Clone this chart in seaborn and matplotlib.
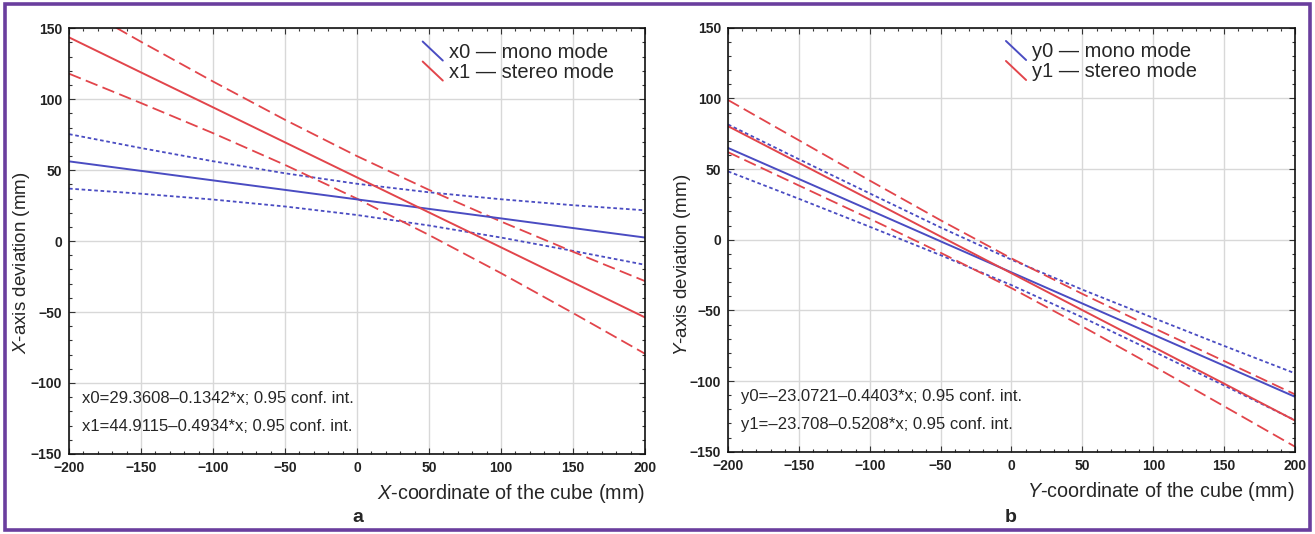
import numpy as np
import pandas as pd
import matplotlib
matplotlib.use('Agg')
import matplotlib.pyplot as plt
import seaborn as sns
from matplotlib.lines import Line2D
from matplotlib.legend_handler import HandlerBase
from matplotlib.patches import Rectangle
from matplotlib.ticker import MultipleLocator

# cube coordinate (mm), shared by both panels
coord = [-200, -150, -100, -50, 0, 50, 100, 150, 200]

# panel a: X-axis deviation
x0_fit = [56.2, 49.5, 42.8, 36.1, 29.4, 22.7, 16.0, 9.2, 2.5]
x0_hi = [75.4, 65.6, 56.3, 47.8, 40.4, 34.4, 29.5, 25.3, 21.7]
x0_lo = [37.0, 33.4, 29.3, 24.4, 18.4, 11.0, 2.5, -6.9, -16.7]
x1_fit = [143.6, 118.9, 94.3, 69.6, 44.9, 20.2, -4.4, -29.1, -53.8]
x1_hi = [169.2, 140.5, 112.5, 85.5, 59.9, 36.1, 13.8, -7.5, -28.2]
x1_lo = [118.0, 97.3, 76.1, 53.7, 29.9, 4.3, -22.6, -50.7, -79.4]

# panel b: Y-axis deviation
y0_fit = [65.0, 43.0, 21.0, -1.1, -23.1, -45.1, -67.1, -89.1, -111.1]
y0_hi = [81.6, 57.0, 32.8, 8.7, -14.1, -35.3, -55.3, -75.1, -94.5]
y0_lo = [48.4, 29.0, 9.2, -10.9, -32.1, -54.9, -78.9, -103.1, -127.7]
y1_fit = [80.4, 54.4, 28.4, 2.3, -23.7, -49.8, -75.8, -101.8, -127.9]
y1_hi = [98.9, 70.4, 41.9, 13.8, -13.2, -38.3, -62.3, -85.8, -109.4]
y1_lo = [62.0, 38.4, 14.9, -9.2, -34.2, -61.3, -89.3, -117.8, -146.4]

legend_a = ['x0 \u2014 mono mode', 'x1 \u2014 stereo mode']
legend_b = ['y0 \u2014 mono mode', 'y1 \u2014 stereo mode']
eq_a = ['x0=29.3608\u20130.1342*x; 0.95 conf. int.',
        'x1=44.9115\u20130.4934*x; 0.95 conf. int.']
eq_b = ['y0=\u201323.0721\u20130.4403*x; 0.95 conf. int.',
        'y1=\u201323.708\u20130.5208*x; 0.95 conf. int.']

sns.set_style('ticks')
plt.rcParams['font.family'] = ['Liberation Sans', 'DejaVu Sans']
plt.rcParams['mathtext.fontset'] = 'custom'
plt.rcParams['mathtext.rm'] = 'Liberation Sans'
plt.rcParams['mathtext.it'] = 'Liberation Sans:italic'

BLUE = '#4a4cc2'
RED = '#e2454b'
DOT = (0, (2.0, 1.5))
DASH = (0, (7.0, 3.0))


class SlantHandler(HandlerBase):
    def create_artists(self, legend, orig_handle, xdescent, ydescent,
                       width, height, fontsize, trans):
        ln = Line2D([-xdescent, width - xdescent],
                    [height * 1.15 - ydescent, -0.2 * height - ydescent],
                    color=orig_handle.get_color(),
                    lw=orig_handle.get_linewidth(), transform=trans)
        return [ln]


def draw_panel(ax, fit0, lo0, hi0, fit1, lo1, hi1, labels, eqs, leg_pos):
    for ys in (lo0, hi0):
        sns.lineplot(x=coord, y=ys, ax=ax, color=BLUE, lw=1.3, linestyle=DOT)
    for ys in (lo1, hi1):
        sns.lineplot(x=coord, y=ys, ax=ax, color=RED, lw=1.3, linestyle=DASH)
    sns.lineplot(x=coord, y=fit0, ax=ax, color=BLUE, lw=1.4)
    sns.lineplot(x=coord, y=fit1, ax=ax, color=RED, lw=1.4)

    ax.set_xlim(-200, 200)
    ax.set_ylim(-150, 150)
    ax.xaxis.set_major_locator(MultipleLocator(50))
    ax.yaxis.set_major_locator(MultipleLocator(50))
    ax.xaxis.set_minor_locator(MultipleLocator(10))
    ax.yaxis.set_minor_locator(MultipleLocator(10))
    ax.grid(True, which='major', color='#d8d8d8', lw=1.0)
    ax.set_axisbelow(True)
    ax.tick_params(which='both', direction='in', top=True, right=True,
                   color='#333333', width=0.8)
    ax.tick_params(which='major', length=4, pad=5, labelsize=10)
    ax.tick_params(which='minor', length=2.5)
    for lab in ax.get_xticklabels() + ax.get_yticklabels():
        lab.set_fontfamily(['Liberation Sans Narrow', 'Liberation Sans'])
        lab.set_fontweight('bold')
        lab.set_color('#222222')
    for sp in ax.spines.values():
        sp.set_color('#111111')
        sp.set_linewidth(1.2)

    handles = [Line2D([], [], color=BLUE, lw=1.4), Line2D([], [], color=RED, lw=1.4)]
    ax.legend(handles, labels, loc='upper left', bbox_to_anchor=leg_pos,
              frameon=False, fontsize=14.5, handlelength=1.0, handletextpad=0.3,
              labelspacing=0.05, borderaxespad=0, handler_map={Line2D: SlantHandler()})
    ax.text(0.023, 0.131, eqs[0], transform=ax.transAxes, fontsize=12, va='center')
    ax.text(0.023, 0.065, eqs[1], transform=ax.transAxes, fontsize=12, va='center')


fig = plt.figure(figsize=(13.15, 5.34), dpi=100)
ax_a = fig.add_axes([0.0525, 0.150, 0.438, 0.797])
ax_b = fig.add_axes([0.5536, 0.154, 0.4312, 0.794])

draw_panel(ax_a, x0_fit, x0_lo, x0_hi, x1_fit, x1_lo, x1_hi, legend_a, eq_a, (0.60, 0.985))
draw_panel(ax_b, y0_fit, y0_lo, y0_hi, y1_fit, y1_lo, y1_hi, legend_b, eq_b, (0.476, 0.985))

ax_a.set_xlabel(r'$\it{X}$-coordinate of the cube (mm)', loc='right', fontsize=14.2, labelpad=5)
ax_b.set_xlabel(r'$\it{Y}$-coordinate of the cube (mm)', loc='right', fontsize=14.2, labelpad=5)
ax_a.set_ylabel(r'$\it{X}$-axis deviation (mm)', fontsize=13.5, va='center')
ax_b.set_ylabel(r'$\it{Y}$-axis deviation (mm)', fontsize=13.5, va='center')
ax_a.yaxis.set_label_coords(-0.082, 0.45)
ax_b.yaxis.set_label_coords(-0.081, 0.44)

fig.text(358 / 1315, 1 - 518 / 534, 'a', fontsize=14, fontweight='bold', ha='center', va='center')
fig.text(1011 / 1315, 1 - 518 / 534, 'b', fontsize=14, fontweight='bold', ha='center', va='center')

fig.patches.append(Rectangle((0.004, 0.008), 0.9925, 0.984, transform=fig.transFigure,
                             fill=False, edgecolor='#6a3e9e', lw=2.6))

fig.savefig('out.png', dpi=100)
